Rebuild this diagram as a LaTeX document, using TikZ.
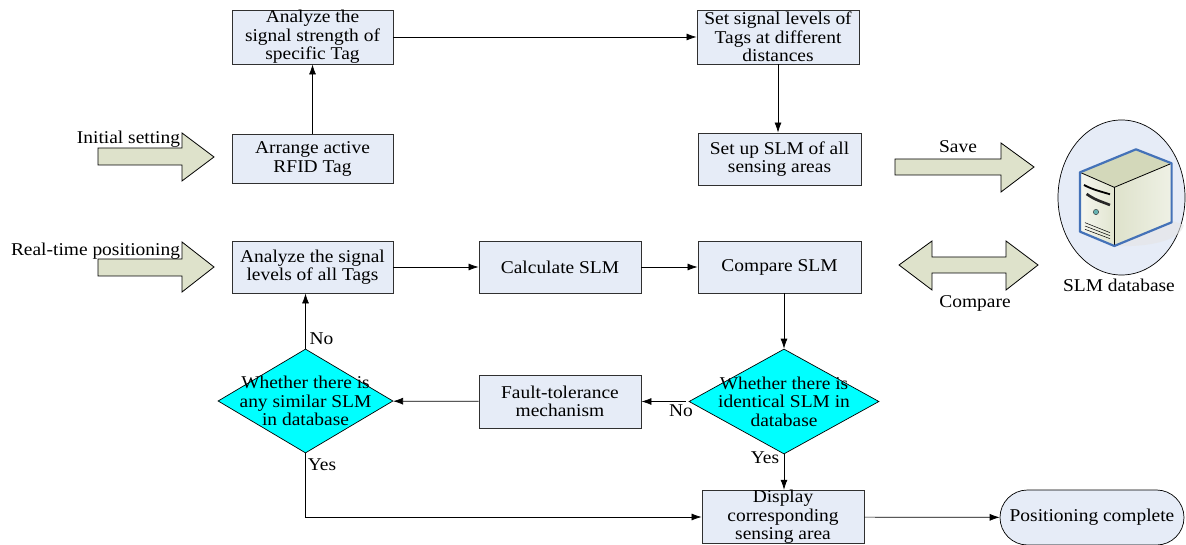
\documentclass[tikz,border=0pt]{standalone}
\usepackage{fontspec}
\setmainfont[FakeStretch=1.08]{Liberation Serif}
\usetikzlibrary{shapes.geometric,shapes.misc,arrows.meta}
\definecolor{boxfill}{HTML}{E6ECF7}
\definecolor{arrowfill}{HTML}{DEE2CB}
\definecolor{edgegray}{HTML}{303030}
\definecolor{serverblue}{HTML}{4472B8}
\definecolor{decfill}{HTML}{00FFFF}
\definecolor{servertop}{HTML}{D3D8BA}
\newcommand{\dtext}[1]{\smash{\makebox[0pt]{\raisebox{-0.25em}{\parbox{190pt}{\centering #1}}}}}
\tikzset{
  every node/.style={font=\fontsize{18}{18.6}\selectfont},
  procbox/.style={draw=edgegray,fill=boxfill,line width=0.9pt,align=center,inner sep=0pt},
  decision/.style={diamond,draw=black,fill=decfill,line width=0.7pt,inner sep=0pt,aspect=1.8},
  terminal/.style={rounded rectangle,draw=black,fill=boxfill,line width=0.7pt,inner sep=0pt,align=center},
  flow/.style={draw=black,line width=0.7pt,-{Latex[length=10pt,width=7pt]}},
  blockarrow/.style={draw=black,fill=arrowfill,line width=0.8pt,line join=miter},
  caption/.style={inner sep=0pt},
}
\begin{document}
\begin{tikzpicture}[x=1pt,y=-1pt]
\useasboundingbox (0,0) rectangle (1186,545);
% block arrows
\draw[blockarrow] (98,148)--(182,148)--(182,133)--(214,157)--(182,181)--(182,165)--(98,165)--cycle;
\draw[blockarrow] (98,259)--(182,259)--(182,242)--(214,267)--(182,292)--(182,276)--(98,276)--cycle;
\draw[blockarrow] (895,159)--(1001,159)--(1001,143)--(1034,167)--(1001,192)--(1001,175)--(895,175)--cycle;
\draw[blockarrow] (899,265)--(932,241)--(932,257)--(1006,257)--(1006,241)--(1038,265)--(1006,290)--(1006,273)--(932,273)--(932,290)--cycle;
% process boxes
\node[procbox,minimum width=161pt,minimum height=54pt] (strength) at (312.5,37) {Analyze the\\signal strength of\\specific Tag};
\node[procbox,minimum width=162pt,minimum height=54pt] (levels) at (778,37) {Set signal levels of\\Tags at different\\distances};
\node[procbox,minimum width=161pt,minimum height=49pt] (arrange) at (312.5,159) {Arrange active\\RFID Tag};
\node[procbox,minimum width=163pt,minimum height=52pt] (setslm) at (779.5,159) {Set up SLM of all\\sensing areas};
\node[procbox,minimum width=161pt,minimum height=52pt] (analyze) at (312.5,267) {Analyze the signal\\levels of all Tags};
\node[procbox,minimum width=162pt,minimum height=52pt] (calc) at (560,267) {Calculate SLM};
\node[procbox,minimum width=163pt,minimum height=52pt] (cmp) at (779.5,267) {Compare SLM};
\node[procbox,minimum width=162pt,minimum height=53pt] (fault) at (560,401.5) {Fault-tolerance\\mechanism};
\node[procbox,minimum width=162pt,minimum height=52pt] (disp) at (783,517) {Display\\corresponding\\sensing area};
\node[terminal,minimum width=184pt,minimum height=55pt] (done) at (1092,517.5) {Positioning complete};
% decisions
\node[decision,minimum width=175pt,minimum height=104pt] (similar) at (305.5,401) {\dtext{Whether there is\\any similar SLM\\in database}};
\node[decision,minimum width=190pt,minimum height=105pt] (identical) at (784,401.5) {\dtext{Whether there is\\identical SLM in\\database}};
% connectors
\draw[flow] (arrange) -- (strength);
\draw[flow] (strength) -- (levels);
\draw[flow] (levels.south) -- (levels.south |- setslm.north);
\draw[flow] (analyze) -- (calc);
\draw[flow] (calc) -- (cmp);
\draw[flow] (identical.north |- cmp.south) -- (identical.north);
\draw[flow,shorten <=3pt] (identical.west) -- (fault.east |- identical.west);
\draw[flow] (fault) -- (similar);
\draw[flow] (similar.north) -- (similar.north |- analyze.south);
\draw[flow] (identical.south) -- (identical.south |- disp.north);
\draw[flow] (similar.south) |- (disp.west);
\draw[flow] (disp) -- (done);
% database
\node[ellipse,draw=black,fill=boxfill,line width=0.7pt,minimum width=127pt,minimum height=155pt,inner sep=0pt] (db) at (1121.5,197.5) {};
\begin{scope}[shift={(880,110)},x=0.3333pt,y=-0.3333pt]
  \fill[black!10,opacity=0.6] (700,408) .. controls (800,412) and (900,395) .. (912,345) -- (870,330) -- cycle;
  \shade[left color=white!70!arrowfill,right color=arrowfill!90!white] (600,187) -- (703,232) -- (703,408) -- (600,365) -- cycle;
  \shade[left color=arrowfill,right color=arrowfill!50!white] (703,232) -- (875,160) -- (875,337) -- (703,408) -- cycle;
  \fill[servertop] (600,187) -- (768,118) -- (875,160) -- (703,232) -- cycle;
  \draw[black,line width=0.8pt] (600,187) -- (703,232) -- (875,160);
  \draw[black,line width=0.8pt] (703,232) -- (703,408);
  \draw[serverblue,line width=2.2pt,line join=round] (600,187) -- (768,118) -- (875,160) -- (875,337) -- (703,408) -- (600,365) -- cycle;
  \draw[black,line width=1.8pt] (612,225) .. controls (640,240) and (665,245) .. (690,253);
  \draw[black!85,line width=2.6pt] (620,252) .. controls (645,270) and (665,275) .. (690,285);
  \draw[black!80,fill=teal!60!white,line width=0.4pt] (648,306) circle (8);
  \draw[black,line width=0.5pt] (615,338) -- (690,368);
  \draw[black,line width=0.5pt] (615,348) -- (690,377);
  \draw[black,line width=0.5pt] (615,358) -- (690,386);
\end{scope}
% free labels
\node[caption] (tinit) at (128.5,139) {Initial setting};
\node[caption] (treal) at (95.5,251) {Real-time positioning};
\node[caption] (tsave) at (958,147) {Save};
\node[caption] (tcmp) at (975,303) {Compare};
\node[caption] (tdb) at (1119,285) {SLM database};
\node[caption] (tno1) at (321.5,339) {No};
\node[caption] (tyes1) at (322,465) {Yes};
\node[caption] (tno2) at (681,411) {No};
\node[caption] (tyes2) at (765,458) {Yes};
\end{tikzpicture}
\end{document}
